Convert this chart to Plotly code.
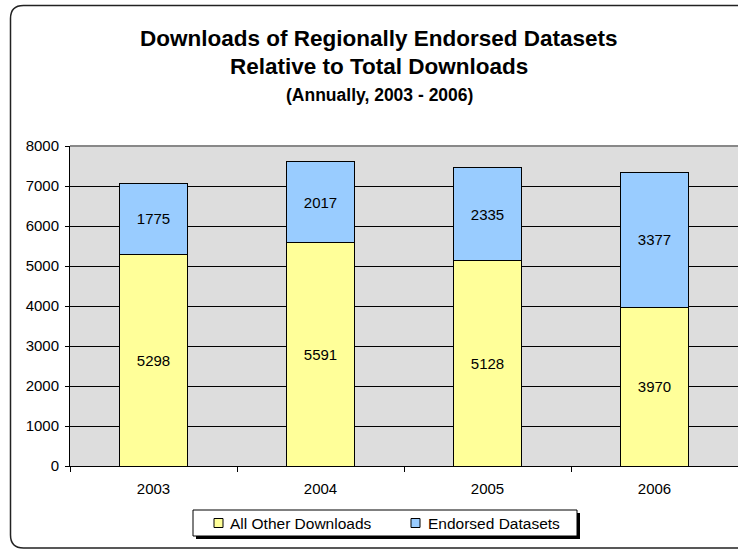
import plotly.graph_objects as go

years = ["2003", "2004", "2005", "2006"]
other_downloads = [5298, 5591, 5128, 3970]
endorsed_datasets = [1775, 2017, 2335, 3377]
y_ticks = [0, 1000, 2000, 3000, 4000, 5000, 6000, 7000, 8000]
series_names = ["All Other Downloads", "Endorsed Datasets"]
series_colors = ["#FFFF99", "#99CCFF"]

W, H = 738, 550
L, R, T, B = 70, 0, 146, 84
PW, PH = W - L - R, H - T - B

def px(p):
    return (p - L) / PW

def py(p):
    return (H - B - p) / PH

FONT = "Liberation Sans, Arial, sans-serif"

fig = go.Figure()
for vals, name, col in zip([other_downloads, endorsed_datasets], series_names, series_colors):
    fig.add_trace(go.Bar(
        x=years, y=vals, name=name,
        marker=dict(color=col, line=dict(color="black", width=1)),
        text=[str(v) for v in vals], textposition="inside",
        insidetextanchor="middle", textfont=dict(family=FONT, size=15, color="black"),
        width=0.41, showlegend=False,
    ))

# rounded outer frame
x0, x1, y0, y1, r = 10.5, 752, 5.5, 548, 13
rx, ry = r / PW, r / PH
X0, X1, Y0, Y1 = px(x0), px(x1), py(y0), py(y1)
path = (f"M {X0+rx},{Y0} L {X1-rx},{Y0} Q {X1},{Y0} {X1},{Y0-ry} "
        f"L {X1},{Y1+ry} Q {X1},{Y1} {X1-rx},{Y1} "
        f"L {X0+rx},{Y1} Q {X0},{Y1} {X0},{Y1+ry} "
        f"L {X0},{Y0-ry} Q {X0},{Y0} {X0+rx},{Y0} Z")
shapes = [
    dict(type="path", xref="paper", yref="paper", path=path,
         line=dict(color="#222222", width=1.5), layer="below"),
    # plot area top border
    dict(type="line", xref="paper", yref="paper", x0=0, x1=1, y0=1, y1=1,
         line=dict(color="#888888", width=2), layer="above"),
    # legend shadow
    dict(type="rect", xref="paper", yref="paper",
         x0=px(196), x1=px(580), y0=py(513), y1=py(539),
         fillcolor="black", line=dict(width=0), layer="above"),
    # legend box
    dict(type="rect", xref="paper", yref="paper",
         x0=px(193), x1=px(577), y0=py(510), y1=py(536),
         fillcolor="white", line=dict(color="black", width=1), layer="above"),
]

# legend entries (manual, Excel style)
legend_items = [(214, 228), (411, 426)]
annotations = []
for (sx, tx), name, col in zip(legend_items, series_names, series_colors):
    shapes.append(dict(type="rect", xref="paper", yref="paper",
                       x0=px(sx), x1=px(sx + 9), y0=py(518.5), y1=py(527.5),
                       fillcolor=col, line=dict(color="black", width=1), layer="above"))
    annotations.append(dict(text=name, x=px(tx), y=py(523), xref="paper", yref="paper",
                            xanchor="left", yanchor="middle", showarrow=False,
                            font=dict(family=FONT, size=15.5, color="black")))

cx = px(379)
annotations += [
    dict(text="<b>Downloads of Regionally Endorsed Datasets</b>", x=cx, xref="paper",
         y=py(38), yref="paper", xanchor="center", yanchor="middle", showarrow=False,
         font=dict(family=FONT, size=22.5, color="black")),
    dict(text="<b>Relative to Total Downloads</b>", x=cx, xref="paper",
         y=py(66), yref="paper", xanchor="center", yanchor="middle", showarrow=False,
         font=dict(family=FONT, size=22.5, color="black")),
    dict(text="<b>(Annually, 2003 - 2006)</b>", x=cx, xref="paper",
         y=py(95), yref="paper", xanchor="center", yanchor="middle", showarrow=False,
         font=dict(family=FONT, size=17.5, color="black")),
]

fig.update_layout(
    width=W, height=H, autosize=False,
    margin=dict(l=L, r=R, t=T, b=B, pad=0),
    barmode="stack",
    paper_bgcolor="white", plot_bgcolor="#DDDDDD",
    font=dict(family=FONT, size=15, color="black"),
    shapes=shapes, annotations=annotations,
    showlegend=False,
    xaxis=dict(type="category", showline=True, linecolor="black", linewidth=1,
               ticks="outside", tickson="boundaries", ticklen=5, tickcolor="black",
               showgrid=False, tickfont=dict(family=FONT, size=15),
               ticklabelstandoff=9, fixedrange=True),
    yaxis=dict(range=[0, 8000], tickvals=y_ticks, showline=True, linecolor="black",
               linewidth=1, ticks="outside", ticklen=4, tickcolor="black",
               showgrid=True, gridcolor="black", gridwidth=1, zeroline=False,
               tickfont=dict(family=FONT, size=15), ticklabelstandoff=3),
)

fig.write_html("out.html", config={"displayModeBar": False},
               post_script="document.body.style.margin='0px';")
